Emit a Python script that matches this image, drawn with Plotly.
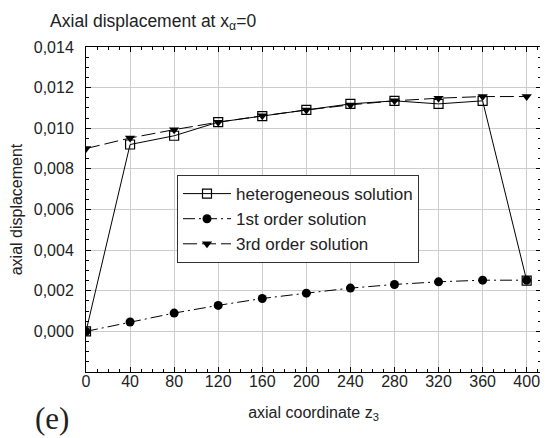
import plotly.graph_objects as go

z3 = [0, 40, 80, 120, 160, 200, 240, 280, 320, 360, 400]
hetero = [0.0, 0.0092, 0.00963, 0.0103, 0.0106, 0.0109, 0.0112, 0.01135, 0.0112, 0.01135, 0.0025]
first_order = [0.0, 0.00046, 0.0009, 0.00128, 0.00162, 0.00188, 0.00213, 0.00231, 0.00244, 0.00252, 0.00252]
third_order = [0.0090, 0.00952, 0.00993, 0.0103, 0.01061, 0.0109, 0.01115, 0.01135, 0.01148, 0.01156, 0.01156]

x_ticks = [0, 40, 80, 120, 160, 200, 240, 280, 320, 360, 400]
y_ticks = [0.000, 0.002, 0.004, 0.006, 0.008, 0.010, 0.012, 0.014]
y_ticklabels = ["0,000", "0,002", "0,004", "0,006", "0,008", "0,010", "0,012", "0,014"]

FONT = "Liberation Sans, Arial, Helvetica, sans-serif"

fig = go.Figure()
fig.add_trace(go.Scatter(
    x=z3, y=hetero, name="heterogeneous solution", mode="lines+markers",
    line=dict(color="black", width=1),
    marker=dict(symbol="square-open", size=9, color="black", line=dict(width=1.2)),
))
fig.add_trace(go.Scatter(
    x=z3, y=first_order, name="1st order solution", mode="lines+markers",
    line=dict(color="black", width=1, dash="12px,4px,2px,4px"),
    marker=dict(symbol="circle", size=9, color="black"),
))
fig.add_trace(go.Scatter(
    x=z3, y=third_order, name="3rd order solution", mode="lines+markers",
    line=dict(color="black", width=1, dash="14px,5px"),
    marker=dict(symbol="triangle-down", size=9, color="black"),
))

axis_common = dict(
    showline=True, linecolor="black", linewidth=1, mirror="ticks",
    ticks="inside", ticklen=5, tickcolor="black",
    showgrid=True, gridcolor="#cccccc", gridwidth=1,
    zeroline=False, automargin=False,
    tickfont=dict(family=FONT, size=16, color="#222"),
)

fig.update_xaxes(
    range=[0, 413], tickvals=x_ticks, ticktext=[str(v) for v in x_ticks],
    minor=dict(ticks="inside", ticklen=3, dtick=10, tickcolor="black", showgrid=False),
    ticklabelstandoff=-5,
    title=dict(text="axial coordinate z<sub>3</sub>", font=dict(family=FONT, size=16, color="#222"), standoff=17),
    **axis_common,
)
fig.update_yaxes(
    range=[-0.002, 0.014], tickvals=y_ticks, ticktext=y_ticklabels,
    minor=dict(ticks="inside", ticklen=3, dtick=0.0005, tickcolor="black", showgrid=False),
    ticklabelstandoff=8,
    title=dict(text="axial displacement", font=dict(family=FONT, size=16, color="#222"), standoff=17),
    **axis_common,
)

fig.update_layout(
    width=540, height=430,
    margin=dict(l=78, r=7, t=39, b=66),
    paper_bgcolor="white", plot_bgcolor="white",
    font=dict(family=FONT, size=16, color="#222"),
    title=dict(text="Axial displacement at x<sub>α</sub>=0", x=0.078, xanchor="left",
               y=0.985, yanchor="top", font=dict(family=FONT, size=17.5, color="#222")),
    legend=dict(
        x=0.2, y=0.606, xanchor="left", yanchor="top",
        bgcolor="white", bordercolor="#333", borderwidth=1,
        font=dict(family=FONT, size=17, color="#222"),
        itemwidth=48, tracegroupgap=0,
    ),
    showlegend=True,
)

fig.add_annotation(
    text="(e)", xref="paper", yref="paper", x=-0.075, y=-0.083,
    xanchor="center", yanchor="top", showarrow=False,
    font=dict(family="Liberation Serif, Times New Roman, serif", size=31, color="#222"),
)

fig.write_html("out.html")
